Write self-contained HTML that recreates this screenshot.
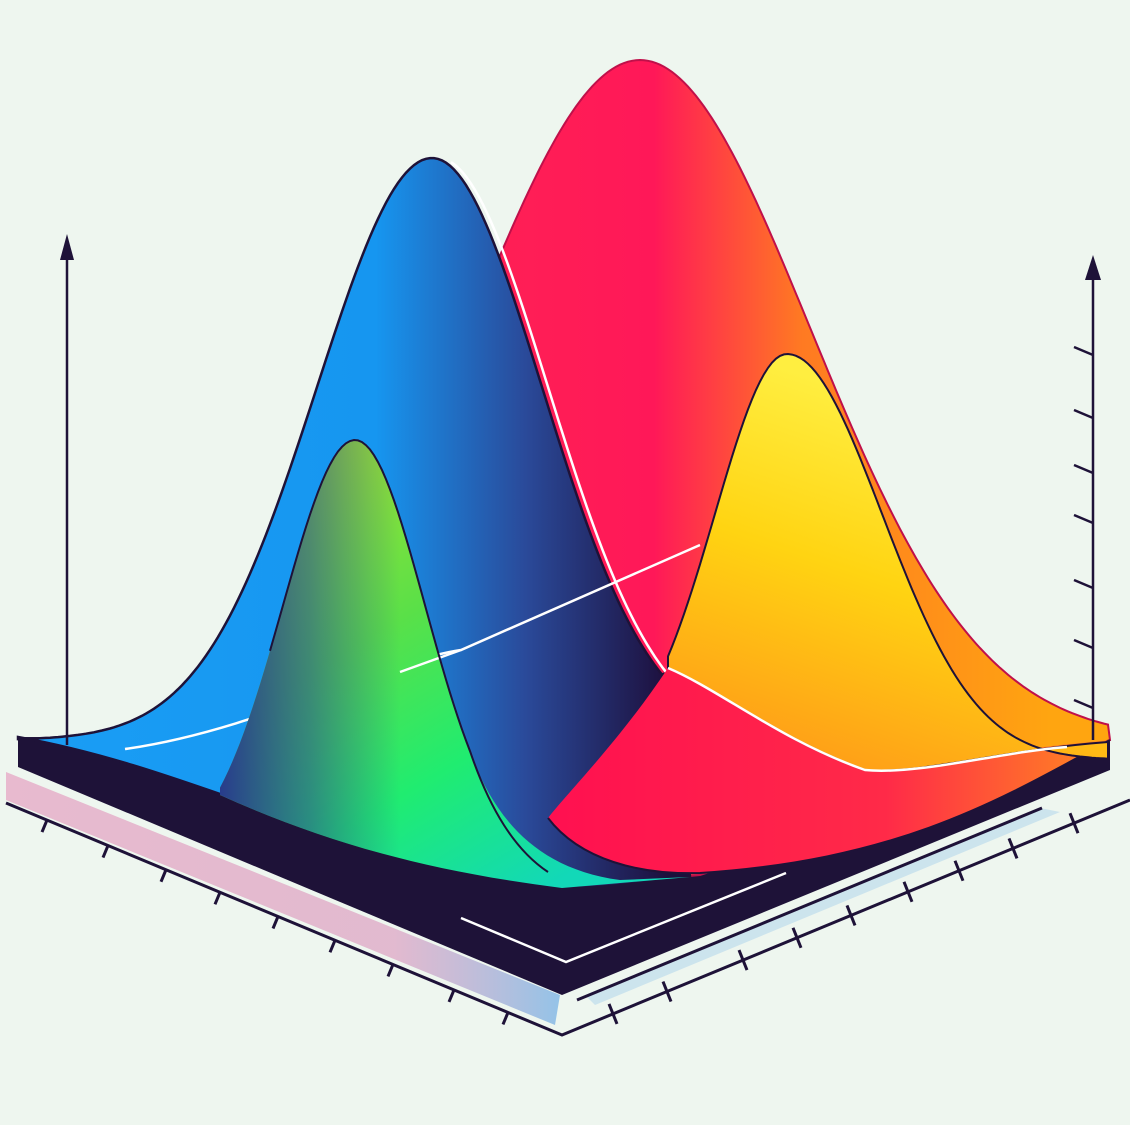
<!DOCTYPE html>
<html><head><meta charset="utf-8"><style>
html,body{margin:0;padding:0;background:#eef6ef;}
svg{display:block;}
</style></head><body>
<svg id="chart" width="1130" height="1125" viewBox="0 0 1130 1125" xmlns="http://www.w3.org/2000/svg">
<defs>
<linearGradient id="gBlue" gradientUnits="userSpaceOnUse" x1="18" y1="0" x2="668" y2="0">
<stop offset="0" stop-color="#1a9ef5"/><stop offset="0.55" stop-color="#1696f0"/><stop offset="0.78" stop-color="#2a4a9a"/><stop offset="1" stop-color="#1d0f3c"/></linearGradient>
<linearGradient id="gRed" gradientUnits="userSpaceOnUse" x1="500" y1="0" x2="1050" y2="0">
<stop offset="0" stop-color="#ff1f55"/><stop offset="0.28" stop-color="#ff1858"/><stop offset="0.55" stop-color="#ff7a22"/><stop offset="1" stop-color="#ffa510"/></linearGradient>
<linearGradient id="gGreen" gradientUnits="userSpaceOnUse" x1="300" y1="440" x2="560" y2="880">
<stop offset="0" stop-color="#a8e030"/><stop offset="0.4" stop-color="#5ae048"/><stop offset="0.7" stop-color="#20ec70"/><stop offset="1" stop-color="#12d8b8"/></linearGradient>
<linearGradient id="gGreenFade" gradientUnits="userSpaceOnUse" x1="220" y1="0" x2="400" y2="0">
<stop offset="0" stop-color="#283c8c" stop-opacity="1"/><stop offset="0.5" stop-color="#2a5090" stop-opacity="0.6"/><stop offset="1" stop-color="#2a5090" stop-opacity="0"/></linearGradient>
<linearGradient id="gYellow" gradientUnits="userSpaceOnUse" x1="820" y1="380" x2="700" y2="740">
<stop offset="0" stop-color="#ffee40"/><stop offset="0.45" stop-color="#ffd412"/><stop offset="1" stop-color="#ff9a18"/></linearGradient>
<linearGradient id="gFloorR" gradientUnits="userSpaceOnUse" x1="550" y1="0" x2="1110" y2="0">
<stop offset="0" stop-color="#ff1050"/><stop offset="0.6" stop-color="#ff2a48"/><stop offset="1" stop-color="#ff8a20"/></linearGradient>
<linearGradient id="gShadow" x1="0" y1="0" x2="1" y2="0">
<stop offset="0" stop-color="#e070a8" stop-opacity="0.45"/><stop offset="0.7" stop-color="#d060a0" stop-opacity="0.4"/><stop offset="1" stop-color="#3a90e0" stop-opacity="0.5"/></linearGradient>
</defs>
<g id="layer"></g>
</svg>
<script>
// series data: gaussian peaks (pixel-space illustration)
const seriesNames = ['red', 'blue', 'green', 'yellow'];
const centers = [640, 432, 355, 787];
const peaks = [60, 158, 440, 354];
const baselines = [740, 740, 860, 760];
const sigmasLeft = [170, 115, 72, 72];
const sigmasRight = [170, 110, 70, 95];
const rightTicks = [352, 415, 470, 520, 585, 645, 705];
const leftAxisTicks = [47, 108, 166, 220, 278, 335, 393, 454, 508];
const rightAxisTicks = [613, 667, 743, 797, 851, 908, 959, 1013, 1074];

const NS = 'http://www.w3.org/2000/svg';
const layer = document.getElementById('layer');
function mk(tag, attrs){ const e=document.createElementNS(NS,tag); for(const k in attrs) e.setAttribute(k,attrs[k]); layer.appendChild(e); return e; }
function yAt(i, x){
  const s = x < centers[i] ? sigmasLeft[i] : sigmasRight[i];
  const d = (x - centers[i]) / s;
  return baselines[i] - (baselines[i] - peaks[i]) * Math.exp(-0.5 * d * d);
}
function curve(i, x0, x1){
  let p = '';
  for(let x=x0; x<=x1; x+=4){ p += (p?'L':'M') + x.toFixed(1) + ',' + yAt(i,x).toFixed(1); }
  return p;
}

let e;
// shadow under slab
e = mk('path',{d:'M6,772 L6,800 L555,1025 L560,995 Z',fill:'url(#gShadow)'});
 
e = mk('path',{d:'M585,995 L1040,808 L1060,812 L595,1005 Z',fill:'#8cc4ec',opacity:'0.35'});
 
// bottom axes
e = mk('path',{d:'M6,803 L562,1035 L1130,800',fill:'none',stroke:'#1e1238','stroke-width':3});
 
e = mk('path',{d:'M577,1000 L1042,808',fill:'none',stroke:'#1e1238','stroke-width':3});
 
leftAxisTicks.forEach(x=>{
  const y = 803 + (x-6)*(232/556);
  const t = mk('line',{x1:x,y1:y,x2:x-5,y2:y+12,stroke:'#1e1238','stroke-width':3});
   
});
rightAxisTicks.forEach(x=>{
  const y = 1035 - (x-562)*(235/568);
  const t = mk('line',{x1:x-4,y1:y-10,x2:x+4,y2:y+10,stroke:'#1e1238','stroke-width':3});
   
});
// slab
e = mk('path',{d:'M18,737 L18,767 L562,995 L1110,770 L1110,740 Z',fill:'#1e1238'});
 
e = mk('path',{d:'M461,918 L566,962 L786,873',fill:'none',stroke:'#ffffff','stroke-width':2.5});
 
// red series
e = mk('path',{d:curve(0,480,1108)+' L1110,740 L700,875 L562,888 L500,700 Z',fill:'url(#gRed)',stroke:'#c0104a','stroke-width':2});
 
// blue series
e = mk('path',{d:curve(1,18,664)+' L668,672 L690,877 C620,886 590,888 562,888 C320,850 200,770 18,737 Z',fill:'url(#gBlue)',stroke:'#1e1238','stroke-width':2.5});
 
e = mk('path',{d:curve(1,445,664),fill:'none',stroke:'#ffffff','stroke-width':2.5,transform:'translate(6,0)'});
 
// white cross line
e = mk('path',{d:'M125,749 C260,730 380,662 461,650 L700,545',fill:'none',stroke:'#ffffff','stroke-width':2.5});
 
// green series
const gPath = curve(2,220,470)+' C490,810 530,868 620,880 L690,877 L562,888 C420,870 320,840 220,795 Z';
e = mk('path',{d:gPath,fill:'url(#gGreen)'});
 
e = mk('path',{d:gPath,fill:'url(#gGreenFade)'});
 
e = mk('path',{d:'M400,672 L461,650',fill:'none',stroke:'#ffffff','stroke-width':2.5});
 
e = mk('path',{d:curve(2,270,470)+' C490,810 515,850 548,872',fill:'none',stroke:'#1e1238','stroke-width':2});
 
// red floor
e = mk('path',{d:'M668,668 C620,740 570,790 548,818 C580,860 640,875 700,873 C900,860 1000,800 1110,740 L1060,745 L865,770 C780,740 720,690 668,668 Z',fill:'url(#gFloorR)'});
 
e = mk('path',{d:'M548,818 C580,860 640,875 700,873 C900,860 1000,800 1110,740',fill:'none',stroke:'#1e1238','stroke-width':2});
 
// yellow series
e = mk('path',{d:curve(3,668,1108)+' L1108,742 C1000,750 920,775 865,770 C780,740 720,690 668,668 Z',fill:'url(#gYellow)',stroke:'#1e1238','stroke-width':2});
 
e = mk('path',{d:'M668,668 C720,690 780,740 865,770 C920,775 1000,752 1067,747',fill:'none',stroke:'#ffffff','stroke-width':2.5});
 
// vertical axes
e = mk('line',{x1:67,y1:252,x2:67,y2:745,stroke:'#1e1238','stroke-width':2.5});
 
e = mk('path',{d:'M60,260 L67,234 L74,260 Z',fill:'#1e1238'});
 
e = mk('line',{x1:1093,y1:272,x2:1093,y2:740,stroke:'#1e1238','stroke-width':2.5});
 
e = mk('path',{d:'M1085,280 L1093,255 L1101,280 Z',fill:'#1e1238'});
 
rightTicks.forEach(y=>{
  const t = mk('line',{x1:1074,y1:y-5,x2:1093,y2:y+3,stroke:'#1e1238','stroke-width':2.5});
   
});
</script>
</body></html>
